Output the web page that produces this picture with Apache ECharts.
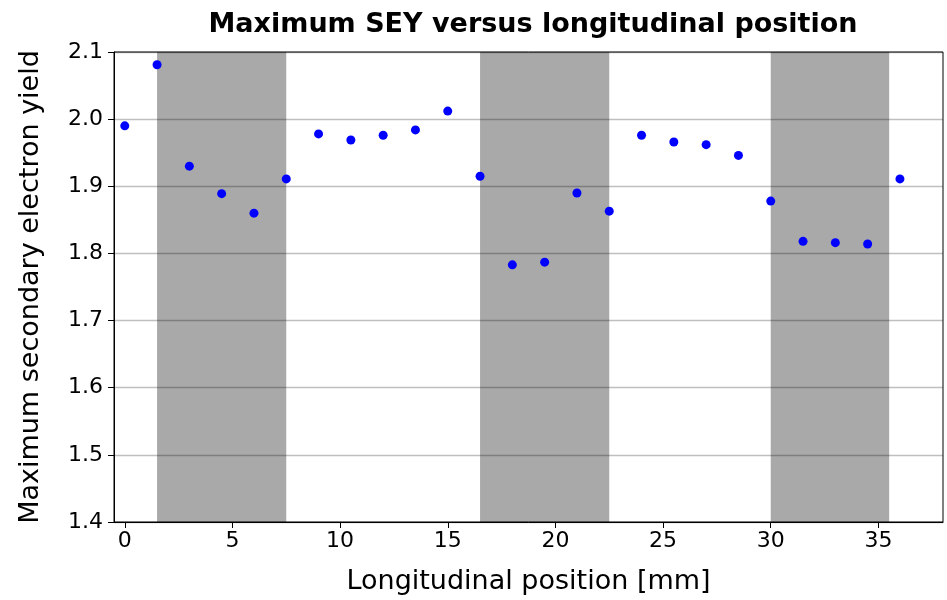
<!DOCTYPE html>
<html>
<head>
<meta charset="utf-8">
<script src="https://cdn.jsdelivr.net/npm/echarts@6/dist/echarts.min.js"></script>
<style>
  html, body { margin: 0; padding: 0; background: #fff; }
  #main { width: 947px; height: 600px; }
</style>
</head>
<body>
<div id="main"></div>
<script>
// positions along the sample (mm) and the measured max SEY
var positions = [0, 1.5, 3, 4.5, 6, 7.5, 9, 10.5, 12, 13.5, 15, 16.5, 18, 19.5, 21, 22.5, 24, 25.5, 27, 28.5, 30, 31.5, 33, 34.5, 36];
var maxSey = [1.990, 2.081, 1.930, 1.889, 1.860, 1.911, 1.978, 1.969, 1.976, 1.984, 2.012, 1.915, 1.783, 1.787, 1.890, 1.863, 1.976, 1.966, 1.962, 1.946, 1.878, 1.818, 1.816, 1.814, 1.911];

// shaded regions
var bandStart = [1.5, 16.5, 30];
var bandEnd = [7.5, 22.5, 35.5];

var xTicks = [0, 5, 10, 15, 20, 25, 30, 35];

var font = 'DejaVu Sans';

var points = [];
for (var i = 0; i < positions.length; i++) {
    points.push([positions[i], maxSey[i]]);
}
var bands = [];
for (var j = 0; j < bandStart.length; j++) {
    bands.push([{xAxis: bandStart[j]}, {xAxis: bandEnd[j]}]);
}

var myChart = echarts.init(document.getElementById('main'));

myChart.setOption({
    animation: false,
    title: {
        text: 'Maximum SEY versus longitudinal position',
        left: 528,
        textAlign: 'center',
        top: 6,
        textStyle: {fontFamily: font, fontWeight: 'bold', fontSize: 27, color: '#000'}
    },
    grid: {left: 114, right: 4, top: 52, bottom: 78},
    xAxis: {
        type: 'value',
        min: -0.5,
        max: 38,
        interval: 5,
        name: 'Longitudinal position [mm]',
        nameLocation: 'middle',
        nameGap: 46,
        nameTextStyle: {fontFamily: font, fontSize: 27, color: '#000'},
        axisLine: {onZero: false, lineStyle: {color: '#000', width: 1}},
        axisTick: {show: true, length: 6, lineStyle: {color: '#000'},
            customValues: xTicks},
        axisLabel: {fontFamily: font, fontSize: 22, color: '#000', margin: 8,
            customValues: xTicks},
        splitLine: {show: false}
    },
    yAxis: {
        type: 'value',
        min: 1.4,
        max: 2.1,
        interval: 0.1,
        z: 2,
        name: 'Maximum secondary electron yield',
        nameLocation: 'middle',
        nameGap: 70,
        nameTextStyle: {fontFamily: font, fontSize: 27, color: '#000'},
        axisLine: {show: true, onZero: false, lineStyle: {color: '#000', width: 1}},
        axisTick: {show: true, length: 6, lineStyle: {color: '#000'}},
        axisLabel: {fontFamily: font, fontSize: 22, color: '#000', margin: 11,
            formatter: function (v) { return v.toFixed(1); }},
        splitLine: {show: true, lineStyle: {color: 'rgba(0,0,0,0.25)', width: 1.3}}
    },
    series: [
        {
            type: 'line',
            z: 1,
            data: [],
            silent: true,
            markArea: {
                silent: true,
                itemStyle: {color: '#a9a9a9'},
                data: bands
            }
        },
        {
            type: 'scatter',
            z: 3,
            symbolSize: 9,
            itemStyle: {color: '#0000ff', opacity: 1},
            data: points
        }
    ],
    graphic: [{
        type: 'rect',
        shape: {x: 114, y: 52, width: 829, height: 470},
        style: {fill: 'none', stroke: '#000', lineWidth: 1},
        silent: true,
        z: 10
    }]
});
</script>
</body>
</html>
